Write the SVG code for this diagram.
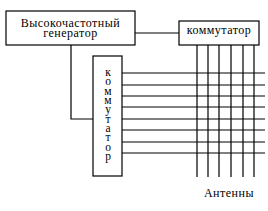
<svg xmlns="http://www.w3.org/2000/svg" width="268" height="211" viewBox="0 0 268 211">
<style>
.box{fill:#fff;stroke:#000;stroke-width:1.2}
.ln{stroke:#000;stroke-width:1.2;fill:none}
.t{font-family:'Liberation Serif','Times New Roman',serif;font-size:12px;letter-spacing:0.5px;fill:#000;text-anchor:middle}
.l{font-family:'Liberation Serif','Times New Roman',serif;font-size:11.5px;fill:#000;text-anchor:middle}
</style>
<rect width="268" height="211" fill="#fff"/>
<g id="connectors">
<path class="ln" d="M135,33H179"/>
<path class="ln" d="M71,45V119H93"/>
<path class="ln" d="M122,73H265M122,85H265M122,96H265M122,107H265M122,119H265M122,130H265M122,142H265M122,153H265"/>
<path class="ln" d="M197,45V177M208,45V177M219,45V177M231,45V177M243,45V177M254,45V177"/>
</g>
<g id="generator">
<rect class="box" x="6" y="11" width="129" height="34"/>
<text class="t" x="70.5" y="27">Высокочастотный</text>
<text class="t" x="70.5" y="36.5">генератор</text>
</g>
<g id="commutator-top">
<rect class="box" x="179" y="21" width="80" height="24"/>
<text class="t" x="219" y="34">коммутатор</text>
</g>
<g id="commutator-vertical">
<rect class="box" x="93" y="56" width="29" height="120"/>
<text class="l" x="108" y="76">к</text>
<text class="l" x="108" y="85.3">о</text>
<text class="l" x="108" y="94.7">м</text>
<text class="l" x="108" y="104">м</text>
<text class="l" x="108" y="113.3">у</text>
<text class="l" x="108" y="122.7">т</text>
<text class="l" x="108" y="132">а</text>
<text class="l" x="108" y="141.3">т</text>
<text class="l" x="108" y="150.7">о</text>
<text class="l" x="108" y="160">р</text>
</g>
<g id="antennas-label">
<text class="t" x="229" y="197">Антенны</text>
</g>
</svg>
